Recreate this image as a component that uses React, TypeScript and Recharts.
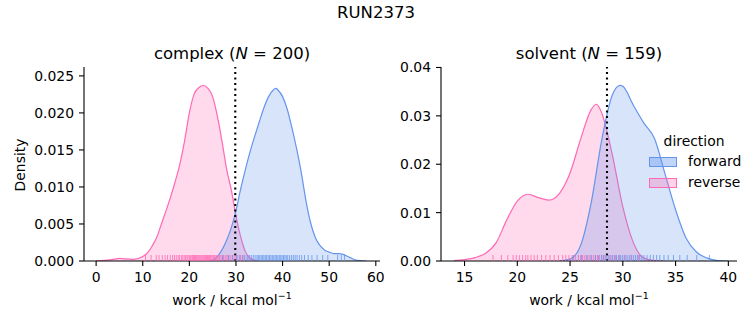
import React from 'react'
import {
  ComposedChart, Area, Scatter, XAxis, YAxis, ReferenceLine,
} from 'recharts'

// KDE curves (x = work, d = density)
const complexReverseX = [0, 2, 4, 5, 6, 8, 10, 11, 12, 13, 14, 15, 16, 17, 18, 19, 20, 21, 22, 23, 24, 25, 26, 27, 28, 29, 30, 31, 32, 33, 34, 35]
const complexReverseD = [0.00002, 0.00008, 0.00025, 0.00036, 0.0003, 0.00022, 0.0006, 0.0011, 0.002, 0.0032, 0.005, 0.0068, 0.0087, 0.0108, 0.0132, 0.0163, 0.02, 0.0225, 0.0234, 0.0237, 0.0233, 0.0222, 0.0196, 0.0162, 0.0124, 0.0096, 0.0061, 0.0033, 0.0013, 0.0004, 0.0001, 0]
const complexForwardX = [24, 25, 26, 27, 28, 29, 30, 31, 32, 33, 34, 35, 36, 37, 38, 38.6, 39, 40, 41, 42, 43, 44, 45, 46, 47, 48, 49, 50, 51, 52, 53, 54, 55, 56, 57, 58]
const complexForwardD = [0, 0.0001, 0.0006, 0.0015, 0.0028, 0.0045, 0.0068, 0.0097, 0.0123, 0.0147, 0.0168, 0.0188, 0.0207, 0.0222, 0.0231, 0.0233, 0.0231, 0.0222, 0.0205, 0.018, 0.0152, 0.012, 0.0082, 0.0052, 0.0032, 0.0021, 0.0015, 0.0012, 0.001, 0.001, 0.0009, 0.0006, 0.0003, 0.0001, 0.00003, 0]

const solventReverseX = [14, 15, 16, 17, 18, 19, 20, 21, 22, 23, 24, 25, 26, 27, 27.5, 28, 29, 30, 31, 32, 33, 34]
const solventReverseD = [0.0001, 0.0003, 0.0007, 0.0016, 0.0038, 0.0085, 0.0124, 0.0138, 0.0131, 0.0126, 0.014, 0.0182, 0.0252, 0.0313, 0.0324, 0.0306, 0.022, 0.0112, 0.0038, 0.0006, 0.0001, 0]
const solventForwardX = [24, 25, 26, 27, 28, 29, 29.75, 30, 31, 32, 33, 34, 35, 36, 37, 38, 39, 40]
const solventForwardD = [0, 0.0004, 0.0032, 0.012, 0.025, 0.0343, 0.0363, 0.0361, 0.0322, 0.0285, 0.0253, 0.018, 0.0106, 0.0047, 0.0018, 0.0006, 0.0001, 0]

// rug marks (individual work values)
const complexReverseRug = [10.6, 11.8, 12.9, 13.5, 14.2, 14.8, 15.3, 15.9, 16.4, 16.8, 17.2, 17.6, 17.9, 18.3, 18.6, 18.9, 19.2, 19.5, 19.7, 20.0, 20.2, 20.4, 20.7, 20.9, 21.1, 21.3, 21.5, 21.7, 21.9, 22.1, 22.3, 22.5, 22.7, 22.9, 23.1, 23.3, 23.5, 23.7, 23.9, 24.1, 24.3, 24.5, 24.7, 24.9, 25.2, 25.4, 25.7, 25.9, 26.2, 26.5, 26.8, 27.1, 27.4, 27.8, 28.1, 28.5, 28.9, 29.3, 29.8, 30.4, 31.0, 31.7, 32.6]
const complexForwardRug = [27.2, 28.4, 29.3, 30.1, 30.8, 31.4, 31.9, 32.4, 32.9, 33.3, 33.7, 34.1, 34.5, 34.8, 35.1, 35.4, 35.7, 36.0, 36.3, 36.6, 36.9, 37.2, 37.5, 37.8, 38.1, 38.4, 38.7, 39.0, 39.3, 39.6, 39.9, 40.2, 40.5, 40.8, 41.1, 41.5, 41.9, 42.3, 42.7, 43.1, 43.6, 44.1, 44.7, 45.5, 46.3, 47.4, 48.6, 49.7, 51.8, 52.6, 53.3]
const solventReverseRug = [17.7, 18.5, 19.1, 19.6, 19.9, 20.2, 20.5, 20.8, 21.0, 21.3, 21.6, 21.9, 22.3, 22.7, 23.1, 23.5, 23.9, 24.3, 24.6, 24.9, 25.2, 25.5, 25.8, 26.0, 26.2, 26.4, 26.6, 26.8, 27.0, 27.2, 27.4, 27.6, 27.8, 28.0, 28.2, 28.4, 28.7, 29.0, 29.3, 29.7, 30.2, 30.8, 31.5]
const solventForwardRug = [25.3, 26.1, 26.6, 27.0, 27.4, 27.7, 28.0, 28.2, 28.4, 28.6, 28.8, 29.0, 29.2, 29.4, 29.6, 29.8, 30.0, 30.2, 30.4, 30.6, 30.8, 31.0, 31.2, 31.4, 31.6, 31.8, 32.0, 32.3, 32.6, 32.9, 33.2, 33.5, 33.9, 34.3, 34.8, 35.4, 36.1, 37.0, 38.2]

const complexXTicks = [0, 10, 20, 30, 40, 50, 60]
const complexYTicks = [0, 0.005, 0.01, 0.015, 0.02, 0.025]
const solventXTicks = [15, 20, 25, 30, 35, 40]
const solventYTicks = [0, 0.01, 0.02, 0.03, 0.04]

const complexEstimate = 29.85
const solventEstimate = 28.5

const BLUE = '#6495ed'
const PINK = '#ff69b4'
const FONT = '"DejaVu Sans", sans-serif'

const toRows = (xs: number[], ds: number[]) => xs.map((x, i) => ({ x, d: ds[i] }))
const toRug = (xs: number[]) => xs.map(x => ({ x, y: 0 }))

const rugShape = (color: string) => (p: any) => (
  <line x1={p.cx} x2={p.cx} y1={p.cy - 6} y2={p.cy} stroke={color} strokeOpacity={0.8} strokeWidth={1} />
)

interface PanelProps {
  left: number
  right: number
  xDomain: [number, number]
  yDomain: [number, number]
  xTicks: number[]
  yTicks: number[]
  digits: number
  reverse: { x: number; d: number }[]
  forward: { x: number; d: number }[]
  reverseRug: { x: number; y: number }[]
  forwardRug: { x: number; y: number }[]
  estimate: number
}

function Panel(p: PanelProps) {
  const tick = { fill: '#000', fontSize: 13.9, fontFamily: FONT }
  return (
    <div style={{ position: 'absolute', left: 0, top: 0 }}>
      <ComposedChart
        width={753}
        height={325}
        margin={{ top: 67, right: 753 - p.right, bottom: 34, left: p.left - 50 }}
      >
        <XAxis
          type="number"
          dataKey="x"
          domain={p.xDomain}
          ticks={p.xTicks}
          allowDataOverflow
          height={30}
          tickSize={5}
          tickMargin={6}
          tick={tick}
          axisLine={{ stroke: '#000', strokeWidth: 1.1 }}
          tickLine={{ stroke: '#000', strokeWidth: 1.1 }}
        />
        <YAxis
          type="number"
          dataKey="y"
          domain={p.yDomain}
          ticks={p.yTicks}
          allowDataOverflow
          width={50}
          tickSize={5}
          tickMargin={5}
          tick={tick}
          tickFormatter={(v: number) => v.toFixed(p.digits)}
          axisLine={{ stroke: '#000', strokeWidth: 1.1 }}
          tickLine={{ stroke: '#000', strokeWidth: 1.1 }}
        />
        <Area
          data={p.reverse}
          dataKey="d"
          type="monotone"
          stroke={PINK}
          strokeWidth={1.2}
          fill={PINK}
          fillOpacity={0.25}
          dot={false}
          activeDot={false}
          isAnimationActive={false}
        />
        <Area
          data={p.forward}
          dataKey="d"
          type="monotone"
          stroke={BLUE}
          strokeWidth={1.2}
          fill={BLUE}
          fillOpacity={0.25}
          dot={false}
          activeDot={false}
          isAnimationActive={false}
        />
        <Scatter data={p.reverseRug} dataKey="y" shape={rugShape(PINK)} isAnimationActive={false} />
        <Scatter data={p.forwardRug} dataKey="y" shape={rugShape(BLUE)} isAnimationActive={false} />
        <ReferenceLine x={p.estimate} stroke="#000" strokeWidth={2.1} strokeDasharray="2.1 3.4" />
      </ComposedChart>
    </div>
  )
}

const text = (x: number, y: number, size: number, content: React.ReactNode, extra: React.CSSProperties = {}) => (
  <div
    style={{
      position: 'absolute', left: x, top: y, transform: 'translate(-50%, -50%)',
      fontFamily: FONT, fontSize: size, color: '#000', whiteSpace: 'nowrap', lineHeight: 1, ...extra,
    }}
  >
    {content}
  </div>
)

const xLabel = <span>work / kcal mol<sup style={{ fontSize: 9.5, verticalAlign: 6 }}>−1</sup></span>

export default function App() {
  return (
    <div style={{ position: 'absolute', left: 0, top: 0, width: 753, height: 325, background: '#fff', overflow: 'hidden' }}>
      <Panel
        left={84}
        right={380}
        xDomain={[-2.6, 60.9]}
        yDomain={[0, 0.0262]}
        xTicks={complexXTicks}
        yTicks={complexYTicks}
        digits={3}
        reverse={toRows(complexReverseX, complexReverseD)}
        forward={toRows(complexForwardX, complexForwardD)}
        reverseRug={toRug(complexReverseRug)}
        forwardRug={toRug(complexForwardRug)}
        estimate={complexEstimate}
      />
      <Panel
        left={441}
        right={737}
        xDomain={[12.77, 40.82]}
        yDomain={[0, 0.0401]}
        xTicks={solventXTicks}
        yTicks={solventYTicks}
        digits={2}
        reverse={toRows(solventReverseX, solventReverseD)}
        forward={toRows(solventForwardX, solventForwardD)}
        reverseRug={toRug(solventReverseRug)}
        forwardRug={toRug(solventForwardRug)}
        estimate={solventEstimate}
      />
      {text(376, 13, 16.5, 'RUN2373')}
      {text(232, 54, 16.5, <span>complex (<i>N</i> = 200)</span>)}
      {text(589, 54, 16.5, <span>solvent (<i>N</i> = 159)</span>)}
      {text(21, 165, 13.9, 'Density', { transform: 'translate(-50%, -50%) rotate(-90deg)' })}
      {text(232, 299, 13.9, xLabel)}
      {text(589, 299, 13.9, xLabel)}
      {text(694, 142, 13.9, 'direction')}
      <div style={{ position: 'absolute', left: 649, top: 157, width: 28, height: 10, boxSizing: 'border-box', border: `1px solid ${BLUE}`, background: 'rgba(100,149,237,0.4)' }} />
      <div style={{ position: 'absolute', left: 649, top: 178, width: 28, height: 10, boxSizing: 'border-box', border: `1px solid ${PINK}`, background: 'rgba(255,105,180,0.3)' }} />
      {text(688, 162, 13.9, 'forward', { transform: 'translate(0, -50%)' })}
      {text(688, 183, 13.9, 'reverse', { transform: 'translate(0, -50%)' })}
    </div>
  )
}
